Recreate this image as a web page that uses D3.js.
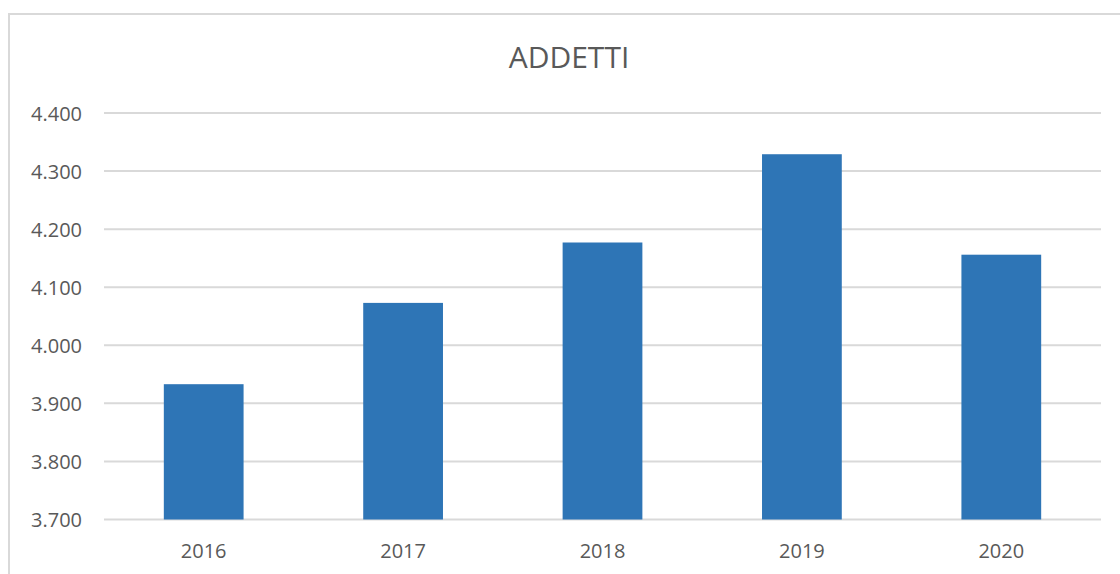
<!DOCTYPE html>
<html>
<head>
<meta charset="utf-8">
<script src="https://cdn.jsdelivr.net/npm/d3@7"></script>
<style>
  body { margin: 0; background: #fff; }
  text { font-family: "Open Sans", sans-serif; fill: #595959; }
</style>
</head>
<body>
<div id="chart"></div>
<script>
let width = 1120, height = 574;

// Data
const years = ['2016', '2017', '2018', '2019', '2020'];
const addetti = [3933, 4073, 4177, 4329, 4156];
const yTicks = [3700, 3800, 3900, 4000, 4100, 4200, 4300, 4400];

const svg = d3.select('#chart').append('svg')
  .attr('width', width)
  .attr('height', height);

// Chart frame (only top and left visible)
svg.append('rect')
  .attr('x', 9)
  .attr('y', 14)
  .attr('width', 1130)
  .attr('height', 580)
  .attr('fill', 'none')
  .attr('stroke', '#d9d9d9')
  .attr('stroke-width', 2);

const plot = { left: 104, right: 1101, top: 113, bottom: 519.5 };

const x = d3.scaleBand()
  .domain(years)
  .range([plot.left, plot.right])
  .paddingInner(0.6)
  .paddingOuter(0.3);

const y = d3.scaleLinear()
  .domain([3700, 4400])
  .range([plot.bottom, plot.top]);

// Italian number format: 4.400
const fmt = d3.formatLocale({ decimal: ',', thousands: '.', grouping: [3], currency: ['€', ''] })
  .format(',');

// Gridlines
svg.append('g').selectAll('line')
  .data(yTicks)
  .join('line')
    .attr('x1', plot.left)
    .attr('x2', plot.right)
    .attr('y1', d => y(d))
    .attr('y2', d => y(d))
    .attr('stroke', '#d9d9d9')
    .attr('stroke-width', 2);

// Y labels
svg.append('g').selectAll('text')
  .data(yTicks)
  .join('text')
    .attr('x', 82)
    .attr('y', d => y(d) + 7.5)
    .attr('text-anchor', 'end')
    .attr('font-size', 20)
    .text(d => fmt(d));

// Bars
svg.append('g').selectAll('rect')
  .data(addetti)
  .join('rect')
    .attr('x', (d, i) => x(years[i]))
    .attr('width', x.bandwidth())
    .attr('y', d => y(d))
    .attr('height', d => y(3700) - y(d))
    .attr('fill', '#2e75b6');

// X labels
svg.append('g').selectAll('text')
  .data(years)
  .join('text')
    .attr('x', d => x(d) + x.bandwidth() / 2)
    .attr('y', 558)
    .attr('text-anchor', 'middle')
    .attr('font-size', 20)
    .text(d => d);

// Title
svg.append('text')
  .attr('x', 569)
  .attr('y', 68)
  .attr('text-anchor', 'middle')
  .attr('font-size', 30)
  .text('ADDETTI');
</script>
</body>
</html>
